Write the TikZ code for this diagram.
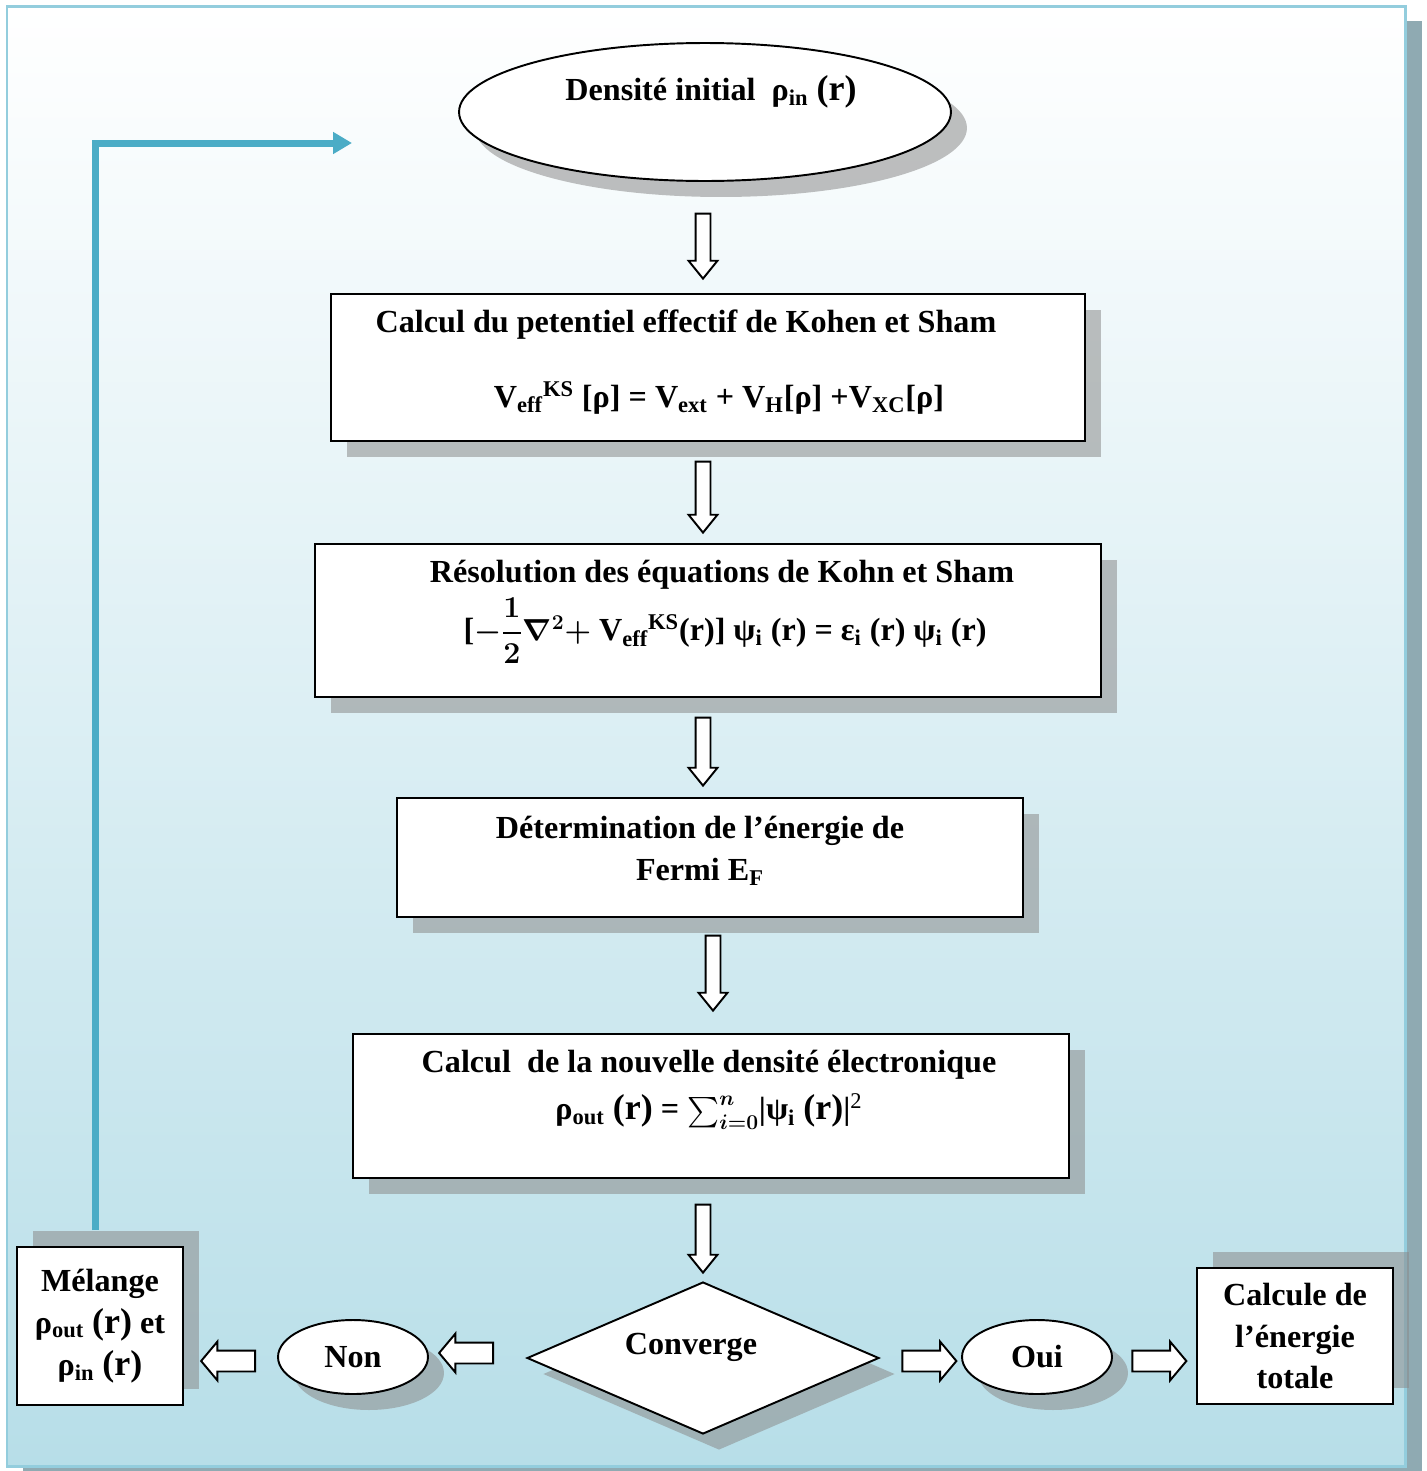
\documentclass[tikz,border=0pt]{standalone}
\usepackage{amsmath}
\usepackage{fontspec}
\setmainfont{Liberation Serif}
\usetikzlibrary{shapes.geometric,shapes.arrows,shadows,arrows.meta}

\definecolor{bgblue}{RGB}{183,222,232}
\definecolor{frameblue}{RGB}{147,205,221}
\definecolor{frameshade}{RGB}{143,170,178}
\definecolor{loopblue}{RGB}{75,172,198}
\definecolor{shadegray}{RGB}{138,138,138}

\newcommand{\rarg}{{\fontsize{20.5}{23.8}\selectfont(r)}}

\tikzset{
  txt/.style={font=\bfseries\fontsize{18.3}{23.8}\selectfont, align=center, inner sep=0pt},
  shadedown/.style={drop shadow={shadow xshift=0.32cm, shadow yshift=-0.32cm, fill=shadegray, opacity=0.54}},
  shadeup/.style={drop shadow={shadow xshift=0.32cm, shadow yshift=0.32cm, fill=shadegray, opacity=0.54}},
  stepbox/.style={draw, fill=white, line width=1.1pt, inner sep=0pt, shadedown},
  sidebox/.style={draw, fill=white, line width=1.1pt, txt, shadeup},
  oval/.style={ellipse, draw, fill=white, line width=1.1pt, inner sep=0pt, shadedown},
  decision/.style={diamond, aspect=2.3, draw, fill=white, line width=1.1pt, inner sep=0pt, shadedown},
  vblock/.style={single arrow, draw, fill=white, line width=1.1pt, inner sep=0pt, inner ysep=0.13cm,
    single arrow head extend=0.14cm, single arrow tip angle=78, rotate=-90},
  hblock/.style={single arrow, draw, fill=white, line width=1.1pt, inner sep=0pt, inner ysep=0.19cm,
    single arrow head extend=0.18cm, single arrow tip angle=100, minimum height=1.08cm},
  feedback/.style={draw=loopblue, line width=0.14cm, -{Triangle[length=0.38cm,width=0.42cm]}}
}

\begin{document}
\begin{tikzpicture}[x=0.02cm, y=-0.02cm]
    \useasboundingbox (0,0) rectangle (1427,1471);

    % frame
    \fill[frameshade] (23,21) rectangle (1422,1471);
    \draw[frameblue, line width=0.06cm, top color=white, bottom color=bgblue] (7,6) rectangle (1405,1466);

    % start
    \node[oval, minimum width=9.84cm, minimum height=2.76cm] (init) at (705,112) {};
    \node[txt] (initlbl) at (711,92) {Densité initial~~ρ\textsubscript{in} \rarg};

    % steps
    \node[stepbox, minimum width=15.08cm, minimum height=2.94cm] (pot) at (708,367.5) {};
    \node[txt] (potlbl) at (686,325) {Calcul du petentiel effectif de Kohen et Sham};
    \node[txt] (poteq) at (719,398) {V\textsubscript{eff}\textsuperscript{KS} [ρ] = V\textsubscript{ext} + V\textsubscript{H}[ρ] +V\textsubscript{XC}[ρ]};

    \node[stepbox, minimum width=15.72cm, minimum height=3.06cm] (ks) at (708,620.5) {};
    \node[txt] (kslbl) at (722,575) {Résolution des équations de Kohn et Sham};
    \node[txt] (kseq) at (725,631) {[{\boldmath$-\dfrac{1}{2}\nabla^{2}+$} V\textsubscript{eff}\textsuperscript{KS}(r)] ψ\textsubscript{i} (r) = ε\textsubscript{i} (r) ψ\textsubscript{i} (r)};

    \node[stepbox, minimum width=12.52cm, minimum height=2.38cm] (fermi) at (710,857.5) {};
    \node[txt] (fermilbl) at (700,851) {Détermination de l’énergie de\\Fermi E\textsubscript{F}};

    \node[stepbox, minimum width=14.32cm, minimum height=2.88cm] (dens) at (711,1106) {};
    \node[txt] (denslbl) at (709,1089) {Calcul\ \ de la nouvelle densité électronique\\[3pt]
      ρ\textsubscript{out} \rarg{} = \smash{\boldmath$\sum_{i=0}^{n}$}|ψ\textsubscript{i} \rarg|\textsuperscript{\mdseries 2}};

    % test
    \node[decision, minimum width=7.04cm, minimum height=3.04cm] (conv) at (703,1358) {};
    \node[txt] (convlbl) at (691,1347) {Converge};
    \node[oval, txt, minimum width=3cm, minimum height=1.48cm] (non) at (353,1357) {Non};
    \node[oval, txt, minimum width=3cm, minimum height=1.48cm] (oui) at (1037,1357) {Oui};

    \node[sidebox, minimum width=3.32cm, minimum height=3.16cm] (mix) at (100,1326) {Mélange\\ρ\textsubscript{out} \rarg{} et\\ρ\textsubscript{in} \rarg};
    \node[sidebox, minimum width=3.92cm, minimum height=2.72cm] (etot) at (1295,1336) {Calcule de\\l’énergie\\totale};

    % block arrows
    \node[vblock, minimum height=1.3cm] (a1) at (703,241.5) {};
    \node[vblock, minimum height=1.42cm] (a2) at (703,492.5) {};
    \node[vblock, minimum height=1.36cm] (a3) at (703,747) {};
    \node[vblock, minimum height=1.5cm] (a4) at (713,968.5) {};
    \node[vblock, minimum height=1.36cm] (a5) at (703,1234) {};
    \node[hblock, rotate=180] (a6) at (470.5,1353) {};
    \node[hblock, rotate=180] (a7) at (232.5,1361) {};
    \node[hblock] (a8) at (925,1361) {};
    \node[hblock] (a9) at (1155,1361) {};

    % back to start
    \coordinate (loopend) at (352,143);
    \draw[feedback] (mix.north) ++(-5,-16) |- (loopend);
\end{tikzpicture}
\end{document}
